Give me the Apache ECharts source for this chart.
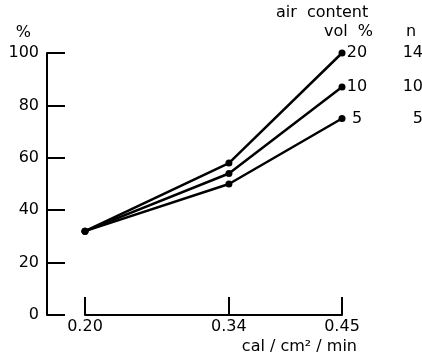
<!DOCTYPE html>
<html>
<head>
<meta charset="utf-8">
<script src="https://cdn.jsdelivr.net/npm/echarts@6/dist/echarts.min.js"></script>
<style>
  html, body { margin: 0; padding: 0; background: #fff; }
  #chart { width: 422px; height: 357px; }
</style>
</head>
<body>
<div id="chart"></div>
<script>
// x: radiation intensity (cal/cm2/min)
const xValues = [0.20, 0.34, 0.45];
const yTicks = [0, 20, 40, 60, 80, 100];
// air content vol %, n
const airContent = ['20', '10', '5'];
const nValues = ['14', '10', '5'];
const seriesValues = [
    [32, 58, 100],
    [32, 54, 87],
    [32, 50, 75]
];

const FONT = 'DejaVu Sans';
const FS = 16;
const chart = echarts.init(document.getElementById('chart'), null, { renderer: 'canvas' });

const option = {
    animation: false,
    textStyle: { fontFamily: FONT, color: '#000' },
    grid: { left: 85, right: 80, top: 53, bottom: 42 },
    xAxis: {
        type: 'value',
        min: 0.2,
        max: 0.45,
        name: 'cal / cm² / min',
        nameLocation: 'end',
        nameGap: 15,
        nameTextStyle: {
            color: '#000', fontSize: FS, fontFamily: FONT,
            align: 'right', verticalAlign: 'top', padding: [24, 0, 0, 0]
        },
        axisLine: { show: true, onZero: false, lineStyle: { color: '#000', width: 2 } },
        axisTick: { show: true, inside: true, length: 18, customValues: xValues, lineStyle: { color: '#000', width: 2 } },
        axisLabel: {
            customValues: xValues,
            color: '#000', fontSize: FS, fontFamily: FONT, margin: 4,
            formatter: v => v.toFixed(2)
        },
        splitLine: { show: false }
    },
    yAxis: {
        type: 'value',
        min: 0,
        max: 100,
        interval: 20,
        offset: 38,
        name: '%',
        nameLocation: 'end',
        nameGap: 12,
        nameTextStyle: {
            color: '#000', fontSize: FS, fontFamily: FONT,
            align: 'right', padding: [0, 16, 0, 0]
        },
        axisLine: { show: true, lineStyle: { color: '#000', width: 2 } },
        axisTick: { show: true, inside: true, length: 18, lineStyle: { color: '#000', width: 2 } },
        axisLabel: {
            color: '#000', fontSize: FS, fontFamily: FONT, margin: 8,
            formatter: v => yTicks.includes(v) ? String(v) : ''
        },
        splitLine: { show: false }
    },
    graphic: [
        { type: 'text', left: 276, top: 5, style: { text: 'air  content', fontSize: FS, fontFamily: FONT, fill: '#000' } },
        { type: 'text', right: 49, top: 24, style: { text: 'vol  %', fontSize: FS, fontFamily: FONT, fill: '#000' } },
        { type: 'text', left: 406, top: 24, style: { text: 'n', fontSize: FS, fontFamily: FONT, fill: '#000' } }
    ],
    series: seriesValues.map((vals, i) => ({
        type: 'line',
        name: airContent[i],
        data: vals.map((v, j) => [xValues[j], v]),
        symbol: 'circle',
        symbolSize: 7,
        itemStyle: { color: '#000' },
        lineStyle: { color: '#000', width: 2.5 },
        endLabel: {
            show: true,
            distance: 3,
            formatter: () => '{v|' + airContent[i] + '}{g|}{n|' + nValues[i] + '}',
            rich: {
                v: { width: 24, align: 'right', fontSize: FS, fontFamily: FONT, color: '#000' },
                g: { width: 32 },
                n: { width: 22, align: 'right', fontSize: FS, fontFamily: FONT, color: '#000' }
            }
        }
    }))
};

chart.setOption(option);
</script>
</body>
</html>
